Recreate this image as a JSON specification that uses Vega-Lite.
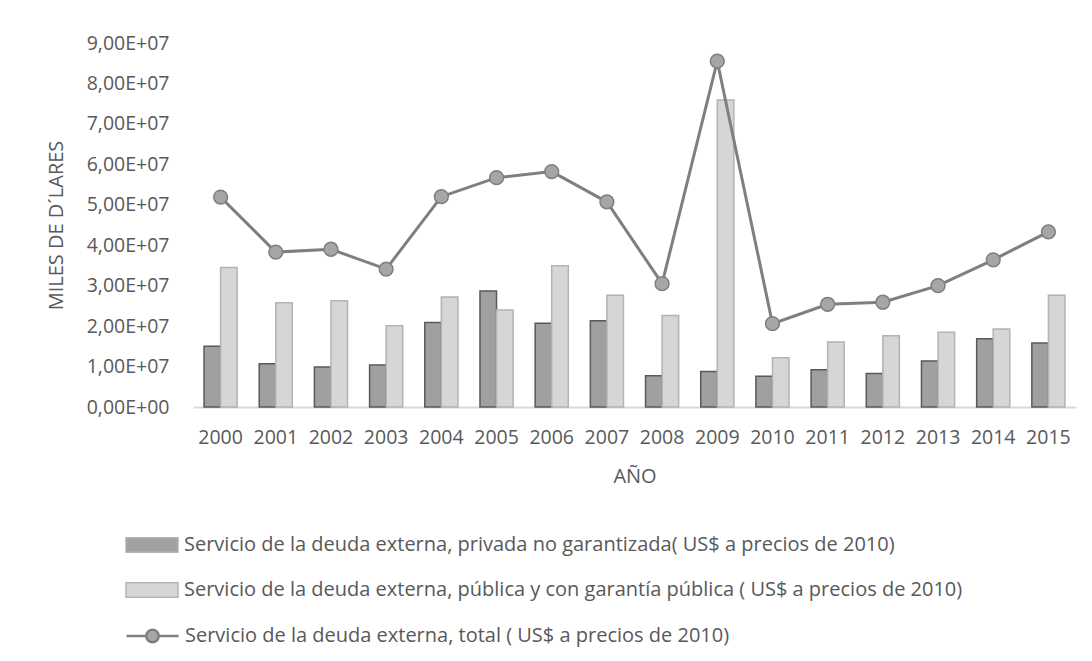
{
  "$schema": "https://vega.github.io/schema/vega-lite/v6.json",
  "width": 883,
  "height": 364,
  "autosize": {"type": "none"},
  "padding": {"left": 193, "top": 43, "right": 16, "bottom": 254},
  "background": "white",
  "config": {
    "font": "Open Sans",
    "view": {"stroke": null},
    "axis": {"grid": false, "ticks": false, "labelColor": "#595959", "titleColor": "#595959", "labelFontSize": 19.5, "titleFontSize": 20, "titleFontWeight": "normal"},
    "legend": {"labelColor": "#595959", "labelFontSize": 20, "labelLimit": 2000, "padding": 0}
  },
  "datasets": {
    "barras": [
      {"anio": "2000", "serie": "Servicio de la deuda externa, privada no garantizada( US$ a precios de 2010)", "valor": 15000000},
      {"anio": "2001", "serie": "Servicio de la deuda externa, privada no garantizada( US$ a precios de 2010)", "valor": 10700000},
      {"anio": "2002", "serie": "Servicio de la deuda externa, privada no garantizada( US$ a precios de 2010)", "valor": 9900000},
      {"anio": "2003", "serie": "Servicio de la deuda externa, privada no garantizada( US$ a precios de 2010)", "valor": 10400000},
      {"anio": "2004", "serie": "Servicio de la deuda externa, privada no garantizada( US$ a precios de 2010)", "valor": 20900000},
      {"anio": "2005", "serie": "Servicio de la deuda externa, privada no garantizada( US$ a precios de 2010)", "valor": 28700000},
      {"anio": "2006", "serie": "Servicio de la deuda externa, privada no garantizada( US$ a precios de 2010)", "valor": 20700000},
      {"anio": "2007", "serie": "Servicio de la deuda externa, privada no garantizada( US$ a precios de 2010)", "valor": 21300000},
      {"anio": "2008", "serie": "Servicio de la deuda externa, privada no garantizada( US$ a precios de 2010)", "valor": 7700000},
      {"anio": "2009", "serie": "Servicio de la deuda externa, privada no garantizada( US$ a precios de 2010)", "valor": 8800000},
      {"anio": "2010", "serie": "Servicio de la deuda externa, privada no garantizada( US$ a precios de 2010)", "valor": 7600000},
      {"anio": "2011", "serie": "Servicio de la deuda externa, privada no garantizada( US$ a precios de 2010)", "valor": 9200000},
      {"anio": "2012", "serie": "Servicio de la deuda externa, privada no garantizada( US$ a precios de 2010)", "valor": 8300000},
      {"anio": "2013", "serie": "Servicio de la deuda externa, privada no garantizada( US$ a precios de 2010)", "valor": 11400000},
      {"anio": "2014", "serie": "Servicio de la deuda externa, privada no garantizada( US$ a precios de 2010)", "valor": 16900000},
      {"anio": "2015", "serie": "Servicio de la deuda externa, privada no garantizada( US$ a precios de 2010)", "valor": 15800000},
      {"anio": "2000", "serie": "Servicio de la deuda externa, pública y con garantía pública ( US$ a precios de 2010)", "valor": 34500000},
      {"anio": "2001", "serie": "Servicio de la deuda externa, pública y con garantía pública ( US$ a precios de 2010)", "valor": 25800000},
      {"anio": "2002", "serie": "Servicio de la deuda externa, pública y con garantía pública ( US$ a precios de 2010)", "valor": 26300000},
      {"anio": "2003", "serie": "Servicio de la deuda externa, pública y con garantía pública ( US$ a precios de 2010)", "valor": 20100000},
      {"anio": "2004", "serie": "Servicio de la deuda externa, pública y con garantía pública ( US$ a precios de 2010)", "valor": 27200000},
      {"anio": "2005", "serie": "Servicio de la deuda externa, pública y con garantía pública ( US$ a precios de 2010)", "valor": 24000000},
      {"anio": "2006", "serie": "Servicio de la deuda externa, pública y con garantía pública ( US$ a precios de 2010)", "valor": 34900000},
      {"anio": "2007", "serie": "Servicio de la deuda externa, pública y con garantía pública ( US$ a precios de 2010)", "valor": 27600000},
      {"anio": "2008", "serie": "Servicio de la deuda externa, pública y con garantía pública ( US$ a precios de 2010)", "valor": 22600000},
      {"anio": "2009", "serie": "Servicio de la deuda externa, pública y con garantía pública ( US$ a precios de 2010)", "valor": 75900000},
      {"anio": "2010", "serie": "Servicio de la deuda externa, pública y con garantía pública ( US$ a precios de 2010)", "valor": 12200000},
      {"anio": "2011", "serie": "Servicio de la deuda externa, pública y con garantía pública ( US$ a precios de 2010)", "valor": 16100000},
      {"anio": "2012", "serie": "Servicio de la deuda externa, pública y con garantía pública ( US$ a precios de 2010)", "valor": 17600000},
      {"anio": "2013", "serie": "Servicio de la deuda externa, pública y con garantía pública ( US$ a precios de 2010)", "valor": 18500000},
      {"anio": "2014", "serie": "Servicio de la deuda externa, pública y con garantía pública ( US$ a precios de 2010)", "valor": 19300000},
      {"anio": "2015", "serie": "Servicio de la deuda externa, pública y con garantía pública ( US$ a precios de 2010)", "valor": 27600000}
    ],
    "total": [
      {"anio": "2000", "serie": "Servicio de la deuda externa, total ( US$ a precios de 2010)", "valor": 51900000},
      {"anio": "2001", "serie": "Servicio de la deuda externa, total ( US$ a precios de 2010)", "valor": 38300000},
      {"anio": "2002", "serie": "Servicio de la deuda externa, total ( US$ a precios de 2010)", "valor": 39000000},
      {"anio": "2003", "serie": "Servicio de la deuda externa, total ( US$ a precios de 2010)", "valor": 34100000},
      {"anio": "2004", "serie": "Servicio de la deuda externa, total ( US$ a precios de 2010)", "valor": 52000000},
      {"anio": "2005", "serie": "Servicio de la deuda externa, total ( US$ a precios de 2010)", "valor": 56700000},
      {"anio": "2006", "serie": "Servicio de la deuda externa, total ( US$ a precios de 2010)", "valor": 58200000},
      {"anio": "2007", "serie": "Servicio de la deuda externa, total ( US$ a precios de 2010)", "valor": 50700000},
      {"anio": "2008", "serie": "Servicio de la deuda externa, total ( US$ a precios de 2010)", "valor": 30500000},
      {"anio": "2009", "serie": "Servicio de la deuda externa, total ( US$ a precios de 2010)", "valor": 85500000},
      {"anio": "2010", "serie": "Servicio de la deuda externa, total ( US$ a precios de 2010)", "valor": 20600000},
      {"anio": "2011", "serie": "Servicio de la deuda externa, total ( US$ a precios de 2010)", "valor": 25400000},
      {"anio": "2012", "serie": "Servicio de la deuda externa, total ( US$ a precios de 2010)", "valor": 25900000},
      {"anio": "2013", "serie": "Servicio de la deuda externa, total ( US$ a precios de 2010)", "valor": 30000000},
      {"anio": "2014", "serie": "Servicio de la deuda externa, total ( US$ a precios de 2010)", "valor": 36400000},
      {"anio": "2015", "serie": "Servicio de la deuda externa, total ( US$ a precios de 2010)", "valor": 43300000}
    ]
  },
  "encoding": {
    "x": {
      "field": "anio", "type": "ordinal", "title": "AÑO",
      "scale": {"paddingInner": 0.4, "paddingOuter": 0.2},
      "axis": {"labelAngle": 0, "labelPadding": 21, "domainColor": "#d9d9d9", "domainWidth": 2, "titlePadding": 20}
    },
    "y": {
      "field": "valor", "type": "quantitative", "title": "MILES DE D´LARES",
      "scale": {"domain": [0, 90000000], "nice": false},
      "axis": {"values": [0, 10000000, 20000000, 30000000, 40000000, 50000000, 60000000, 70000000, 80000000, 90000000], "domain": false, "labelPadding": 24, "titlePadding": 20,
        "labelExpr": "datum.value == 0 ? '0,00E+00' : replace(format(datum.value / 10000000, '.2f'), '.', ',') + 'E+07'"}
    }
  },
  "layer": [
    {
      "data": {"name": "barras"},
      "mark": {"type": "bar", "strokeWidth": 1.5},
      "encoding": {
        "xOffset": {"field": "serie", "type": "nominal", "scale": {"domain": ["Servicio de la deuda externa, privada no garantizada( US$ a precios de 2010)", "Servicio de la deuda externa, pública y con garantía pública ( US$ a precios de 2010)"]}},
        "color": {
          "field": "serie", "type": "nominal",
          "scale": {"domain": ["Servicio de la deuda externa, privada no garantizada( US$ a precios de 2010)", "Servicio de la deuda externa, pública y con garantía pública ( US$ a precios de 2010)"], "range": ["#a0a0a0", "#d6d6d6"]},
          "legend": {
            "title": null, "orient": "none", "direction": "vertical", "legendX": -68, "legendY": 492,
            "symbolType": "M-1,-0.28H1V0.28H-1Z", "symbolSize": 2704, "symbolOpacity": 1,
            "clipHeight": 20, "rowPadding": 25, "labelOffset": 5, "symbolStrokeWidth": 1.5,
            "encode": {"symbols": {"update": {"stroke": {"signal": "indexof(datum.value, 'privada') >= 0 ? '#595959' : '#b3b3b3'"}}}}
          }
        },
        "stroke": {"condition": {"test": "indexof(datum.serie, 'privada') >= 0", "value": "#595959"}, "value": "#b3b3b3"}
      }
    },
    {
      "data": {"name": "total"},
      "mark": {"type": "line", "strokeWidth": 3, "point": {"filled": true, "fill": "#a6a6a6", "stroke": "#7f7f7f", "strokeWidth": 1.5, "size": 190}},
      "encoding": {
        "stroke": {
          "field": "serie", "type": "nominal",
          "scale": {"range": ["#7f7f7f"]},
          "legend": {
            "title": null, "orient": "none", "direction": "vertical", "legendX": -68, "legendY": 583,
            "symbolType": "M-1,0H-0.24M0.24,0H1M0.24,0A0.24,0.24 0 1 1 -0.24,0A0.24,0.24 0 1 1 0.24,0Z",
            "symbolSize": 2704, "symbolFillColor": "#a6a6a6", "symbolStrokeWidth": 2.5, "symbolOpacity": 1,
            "clipHeight": 20, "labelOffset": 5
          }
        }
      }
    }
  ]
}
